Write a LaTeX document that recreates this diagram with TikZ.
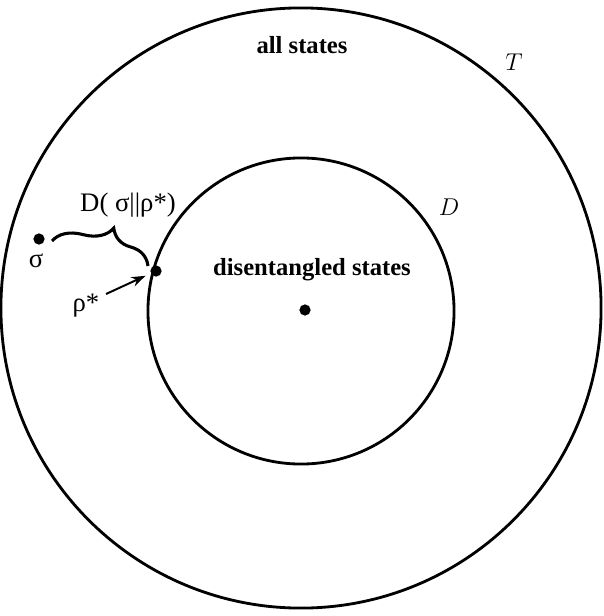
\documentclass[tikz,border=0pt]{standalone}
\usepackage{fontspec}
\setmainfont{Liberation Serif}
\usepackage{tikz}
\usetikzlibrary{arrows.meta,decorations.pathreplacing}

\begin{document}
\begin{tikzpicture}[x=0.025cm,y=-0.025cm,every node/.style={font=\fontsize{19}{22}\selectfont},
          ring/.style={draw,circle,line width=2pt,inner sep=0pt},
          dot/.style={circle,fill=black,inner sep=0pt,minimum size=8pt},
          setlabel/.style={font=\fontsize{17.5}{20}\selectfont\bfseries},
          brc/.style={line width=2.2pt,decorate,decoration={brace,amplitude=0.7cm,aspect=0.57}}]
        \useasboundingbox (0,0) rectangle (603,616);
        \node[ring,minimum size=15cm] (all) at (301,308) {};
        \node[ring,minimum size=7.65cm] (dis) at (301,311) {};
        \node[setlabel] (alltxt) at (302,45) {all states};
        \node[setlabel] (distxt) at (312,270) {disentangled states};
        \node[font=\fontsize{17.5}{20}\selectfont] (T) at (514,62) {$T$};
        \node[font=\fontsize{17.5}{20}\selectfont] (D) at (449,207) {$D$};
        \node[dot] (c) at (305,310) {};
        \node[dot] (sigma) at (39,239) {};
        \node (sigmatxt) at (36,261) {σ};
        \node[dot] (rho) at (156,271) {};
        \node (rhotxt) at (86,306) {ρ*};
        \node (dist) at (128,205) {D( σ||ρ*)};
        \coordinate (bl) at (52,241);
        \coordinate (br) at (148,266);
        \coordinate (tail) at (106,294);
        \draw[brc] (bl) -- (br);
        \draw[line width=1.4pt,-{Stealth[length=10pt,width=7pt]},shorten >=4pt] (tail) -- (rho);
      \end{tikzpicture}
\end{document}
